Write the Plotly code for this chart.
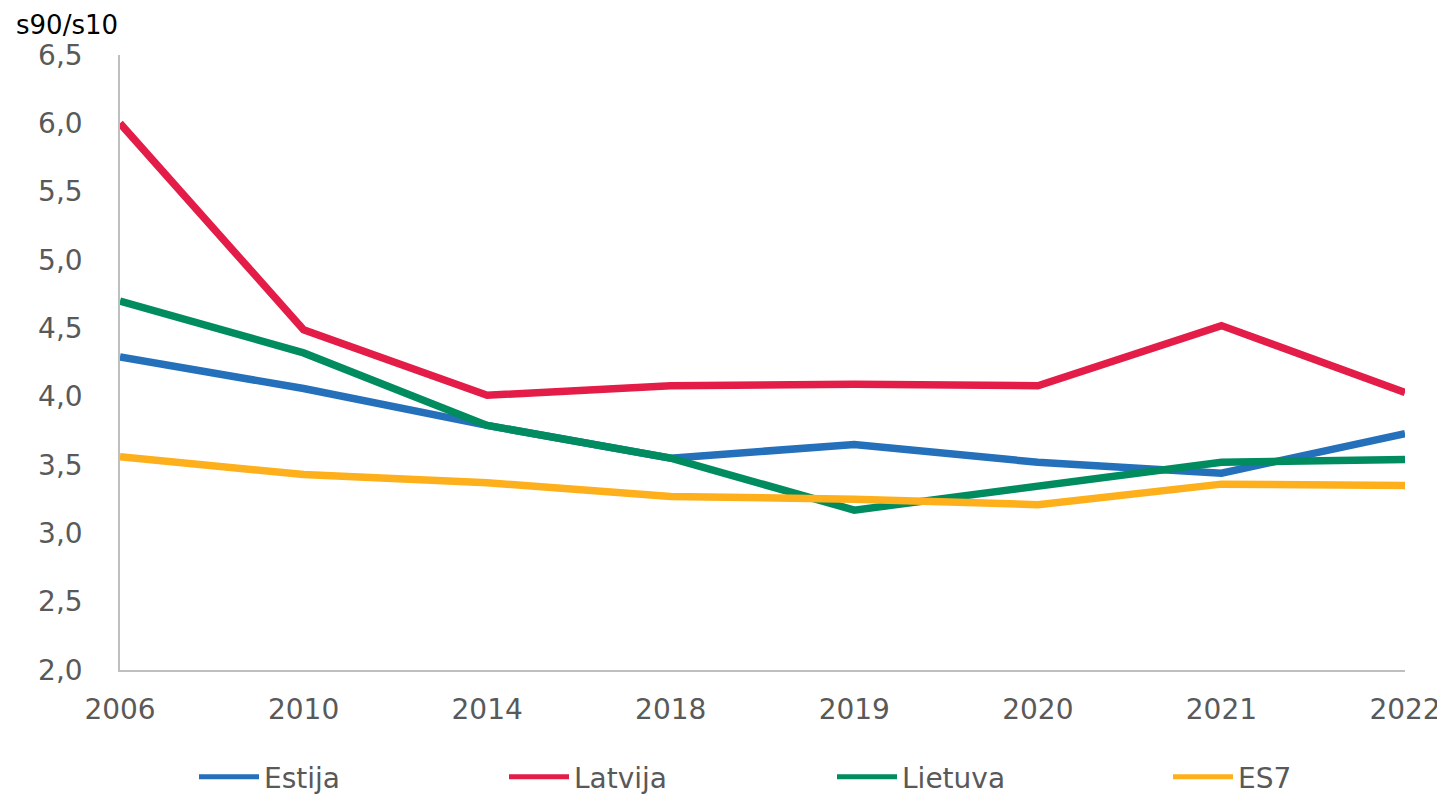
import plotly.graph_objects as go

years = ["2006", "2010", "2014", "2018", "2019", "2020", "2021", "2022"]
estija = [4.29, 4.06, 3.79, 3.55, 3.65, 3.52, 3.44, 3.73]
latvija = [6.00, 4.49, 4.01, 4.08, 4.09, 4.08, 4.52, 4.03]
lietuva = [4.70, 4.32, 3.79, 3.55, 3.17, 3.35, 3.52, 3.54]
es7 = [3.56, 3.43, 3.37, 3.27, 3.25, 3.21, 3.36, 3.35]

series = [
    ("Estija", estija, "#2470BA", "legend"),
    ("Latvija", latvija, "#E31C48", "legend2"),
    ("Lietuva", lietuva, "#008C5F", "legend3"),
    ("ES7", es7, "#FDB01B", "legend4"),
]
legend_text_px = [264, 574, 902, 1238]

FONT = "DejaVu Sans, Verdana, sans-serif"
OFF = 8  # page body margin offset
W, H = 1445, 797
L, T = 120 - OFF, 55 - OFF
PW, PH = 1285, 615
R = W - L - PW
B = H - T - PH

fig = go.Figure()
for name, vals, color, lg in series:
    fig.add_trace(go.Scatter(
        x=years, y=vals, name=name, mode="lines",
        line=dict(color=color, width=7.5),
        legend=lg,
    ))

layout_legends = {}
for i, (name, vals, color, lg) in enumerate(series):
    layout_legends[lg] = dict(
        xref="container", yref="container",
        x=(legend_text_px[i] - OFF - 70) / W,
        y=(H - (777 - OFF)) / H,
        xanchor="left", yanchor="middle",
        orientation="h",
        font=dict(family=FONT, size=28, color="#595959"),
        itemwidth=60,
        bgcolor="rgba(0,0,0,0)",
        borderwidth=0,
        itemsizing="constant",
    )

fig.update_layout(
    width=W, height=H,
    margin=dict(l=L, r=R, t=T, b=B, autoexpand=False),
    paper_bgcolor="white", plot_bgcolor="white",
    separators=", ",
    showlegend=True,
    font=dict(family=FONT, size=28, color="#595959"),
    annotations=[dict(
        text="s90/s10", xref="paper", yref="paper",
        x=-(L - 6) / PW, y=1 + (T - 25 + OFF) / PH,
        xanchor="left", yanchor="middle", showarrow=False,
        font=dict(family=FONT, size=26, color="#000000"),
    )],
    **layout_legends,
)

fig.update_xaxes(
    type="category", range=[0, len(years) - 1], automargin=False,
    showline=True, linecolor="#BFBFBF", linewidth=1.5,
    showgrid=False, zeroline=False, ticks="",
    tickfont=dict(family=FONT, size=28, color="#595959"),
    ticklabelstandoff=14,
)
fig.update_yaxes(
    range=[2.0, 6.5], tick0=2.0, dtick=0.5, tickformat=".1f", automargin=False,
    showline=True, linecolor="#BFBFBF", linewidth=1.5,
    showgrid=False, zeroline=False, ticks="",
    tickfont=dict(family=FONT, size=28, color="#595959"),
    ticklabelstandoff=30,
)

fig.write_html("out.html")
